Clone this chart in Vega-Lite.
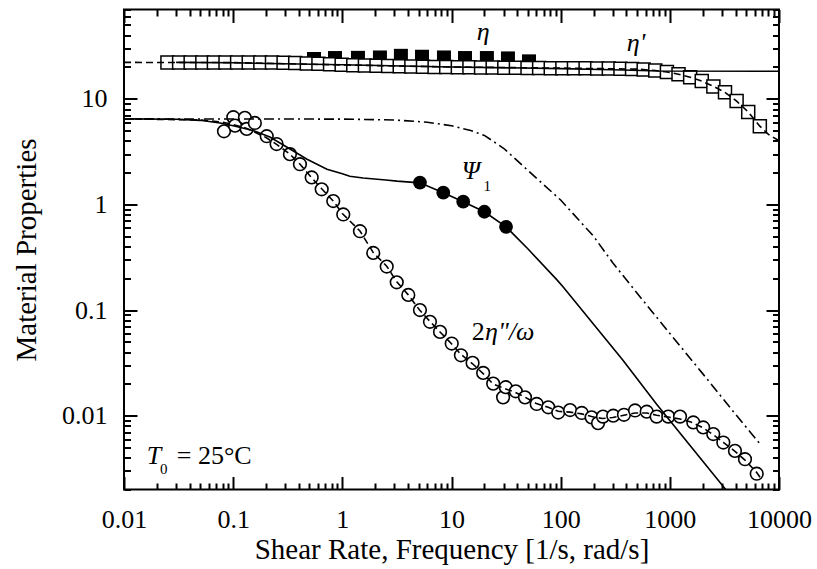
{
  "$schema": "https://vega.github.io/schema/vega-lite/v6.json",
  "width": 655,
  "height": 480,
  "autosize": {"type": "none"},
  "padding": {"left": 124, "top": 9.5, "right": 38, "bottom": 79.5},
  "background": "white",
  "config": {
    "view": {"stroke": "black", "strokeWidth": 2},
    "font": "Liberation Serif",
    "axis": {"domain": false, "grid": false, "tickColor": "black", "tickWidth": 2, "tickOpacity": 1, "zindex": 1, "labelFlush": false, "labelOverlap": false, "labelBound": false}
  },
  "datasets": {
    "etaF": [
      {"x": 0.55, "y": 23.8}, {"x": 0.857, "y": 24.3}, {"x": 1.39, "y": 24.4}, {"x": 2.21, "y": 24.6},
      {"x": 3.44, "y": 25.5}, {"x": 5.37, "y": 25.0}, {"x": 8.53, "y": 24.6}, {"x": 13.3, "y": 24.3},
      {"x": 21.1, "y": 24.3}, {"x": 32.9, "y": 24.1}, {"x": 51.3, "y": 22.6}
    ],
    "etaP": [
      {"x": 0.0250, "y": 22.1}, {"x": 0.0320, "y": 22.1}, {"x": 0.0408, "y": 22.1}, {"x": 0.0522, "y": 22.1},
      {"x": 0.0666, "y": 22.1}, {"x": 0.0851, "y": 22.1}, {"x": 0.1087, "y": 22.1}, {"x": 0.1389, "y": 22.1},
      {"x": 0.1775, "y": 22.1}, {"x": 0.2268, "y": 22.0}, {"x": 0.2897, "y": 21.9}, {"x": 0.3702, "y": 21.8},
      {"x": 0.4729, "y": 21.6}, {"x": 0.6042, "y": 21.4}, {"x": 0.7720, "y": 21.2}, {"x": 0.9863, "y": 21.0},
      {"x": 1.260, "y": 20.8}, {"x": 1.610, "y": 20.6}, {"x": 2.057, "y": 20.5}, {"x": 2.628, "y": 20.4},
      {"x": 3.357, "y": 20.3}, {"x": 4.290, "y": 20.2}, {"x": 5.481, "y": 20.1}, {"x": 7.003, "y": 20.0},
      {"x": 8.947, "y": 20.0}, {"x": 11.43, "y": 19.9}, {"x": 14.60, "y": 19.9}, {"x": 18.66, "y": 19.8},
      {"x": 23.84, "y": 19.8}, {"x": 30.46, "y": 19.7}, {"x": 38.90, "y": 19.7}, {"x": 49.71, "y": 19.6},
      {"x": 63.51, "y": 19.6}, {"x": 81.14, "y": 19.5}, {"x": 103.7, "y": 19.5}, {"x": 132.4, "y": 19.4},
      {"x": 169.2, "y": 19.4}, {"x": 216.2, "y": 19.3}, {"x": 276.2, "y": 19.3}, {"x": 352.9, "y": 19.2},
      {"x": 450.8, "y": 19.1}, {"x": 576.0, "y": 18.9}, {"x": 735.9, "y": 18.5}, {"x": 940.2, "y": 17.9},
      {"x": 1201, "y": 17.1}, {"x": 1535, "y": 16.0}, {"x": 1961, "y": 14.7}, {"x": 2505, "y": 13.1},
      {"x": 3201, "y": 11.5}, {"x": 4089, "y": 9.5}, {"x": 5224, "y": 7.5}, {"x": 6674, "y": 5.5}
    ],
    "psi1": [
      {"x": 5.14, "y": 1.61}, {"x": 8.41, "y": 1.29}, {"x": 12.8, "y": 1.06}, {"x": 20.0, "y": 0.852}, {"x": 31.6, "y": 0.614}
    ],
    "twoEta": [
      {"x": 0.0824, "y": 4.92}, {"x": 0.1003, "y": 6.69}, {"x": 0.104, "y": 5.57}, {"x": 0.128, "y": 6.59},
      {"x": 0.133, "y": 5.18}, {"x": 0.158, "y": 5.9}, {"x": 0.203, "y": 4.42}, {"x": 0.25, "y": 3.73},
      {"x": 0.331, "y": 2.99}, {"x": 0.409, "y": 2.4}, {"x": 0.524, "y": 1.8}, {"x": 0.647, "y": 1.39},
      {"x": 0.826, "y": 1.075}, {"x": 1.02, "y": 0.803}, {"x": 1.45, "y": 0.557}, {"x": 1.92, "y": 0.347},
      {"x": 2.55, "y": 0.258}, {"x": 3.15, "y": 0.183}, {"x": 4.02, "y": 0.139}, {"x": 5.14, "y": 0.1},
      {"x": 6.35, "y": 0.0774}, {"x": 7.85, "y": 0.0621}, {"x": 10.05, "y": 0.0482}, {"x": 12.2, "y": 0.0373},
      {"x": 15.6, "y": 0.0316}, {"x": 19.5, "y": 0.0254}, {"x": 24.1, "y": 0.0201}, {"x": 29.7, "y": 0.0149},
      {"x": 31.4, "y": 0.0186}, {"x": 38.8, "y": 0.017}, {"x": 47.1, "y": 0.0149}, {"x": 60.3, "y": 0.0129},
      {"x": 77, "y": 0.012}, {"x": 95, "y": 0.0107}, {"x": 122, "y": 0.0113}, {"x": 156, "y": 0.0106},
      {"x": 192, "y": 0.00964}, {"x": 220, "y": 0.0085}, {"x": 244, "y": 0.0098}, {"x": 303, "y": 0.01},
      {"x": 380, "y": 0.0102}, {"x": 480, "y": 0.0112}, {"x": 614, "y": 0.0109}, {"x": 757, "y": 0.0098},
      {"x": 968, "y": 0.0098}, {"x": 1240, "y": 0.0098}, {"x": 1640, "y": 0.00863}, {"x": 2020, "y": 0.00774},
      {"x": 2500, "y": 0.0067}, {"x": 3090, "y": 0.00557}, {"x": 3950, "y": 0.00464}, {"x": 4880, "y": 0.00387},
      {"x": 6250, "y": 0.00282}
    ],
    "mEta": [
      {"x": 0.03, "y": 22.1}, {"x": 0.1, "y": 21.9}, {"x": 1, "y": 21.0}, {"x": 10, "y": 20.0},
      {"x": 100, "y": 19.3}, {"x": 300, "y": 18.8}, {"x": 800, "y": 18.3}, {"x": 10000, "y": 18.2}
    ],
    "mEtaP": [
      {"x": 0.01, "y": 22.1}, {"x": 0.1, "y": 22.0}, {"x": 1, "y": 20.9}, {"x": 10, "y": 20.0},
      {"x": 100, "y": 19.5}, {"x": 500, "y": 19.1}, {"x": 736, "y": 18.5}, {"x": 940, "y": 17.9},
      {"x": 1201, "y": 17.1}, {"x": 1535, "y": 16.0}, {"x": 1961, "y": 14.7}, {"x": 2505, "y": 13.1},
      {"x": 3201, "y": 11.5}, {"x": 4089, "y": 9.5}, {"x": 5224, "y": 7.5}, {"x": 6674, "y": 5.5},
      {"x": 8000, "y": 4.6}, {"x": 10000, "y": 4.0}
    ],
    "mPsi": [
      {"x": 0.01, "y": 6.45}, {"x": 0.03, "y": 6.4}, {"x": 0.05, "y": 6.25}, {"x": 0.0757, "y": 5.9},
      {"x": 0.1, "y": 5.55}, {"x": 0.152, "y": 5.0}, {"x": 0.217, "y": 4.35}, {"x": 0.353, "y": 3.22},
      {"x": 0.475, "y": 2.68}, {"x": 0.723, "y": 2.15}, {"x": 1.0, "y": 1.95}, {"x": 1.17, "y": 1.85},
      {"x": 1.55, "y": 1.78}, {"x": 2.5, "y": 1.7}, {"x": 3.17, "y": 1.66}, {"x": 5.14, "y": 1.6},
      {"x": 8.41, "y": 1.29}, {"x": 12.8, "y": 1.06}, {"x": 20, "y": 0.852}, {"x": 31.6, "y": 0.614},
      {"x": 50, "y": 0.38}, {"x": 92.5, "y": 0.193}, {"x": 105, "y": 0.166}, {"x": 372, "y": 0.0334},
      {"x": 757, "y": 0.0128}, {"x": 3250, "y": 0.002}
    ],
    "mDashDot": [
      {"x": 0.01, "y": 6.45}, {"x": 1, "y": 6.42}, {"x": 3, "y": 6.3}, {"x": 6, "y": 6.0},
      {"x": 10, "y": 5.55}, {"x": 15, "y": 5.0}, {"x": 20, "y": 4.5}, {"x": 30, "y": 3.4},
      {"x": 50, "y": 2.1}, {"x": 100, "y": 1.1}, {"x": 200, "y": 0.5}, {"x": 300, "y": 0.28},
      {"x": 500, "y": 0.145}, {"x": 1000, "y": 0.06}, {"x": 2000, "y": 0.025}, {"x": 4000, "y": 0.0103},
      {"x": 6700, "y": 0.0054}
    ],
    "mTwoEta": [
      {"x": 0.01, "y": 6.45}, {"x": 0.05, "y": 6.3}, {"x": 0.08, "y": 6.0}, {"x": 0.1, "y": 5.7},
      {"x": 0.13, "y": 5.3}, {"x": 0.16, "y": 4.8}, {"x": 0.2, "y": 4.3}, {"x": 0.25, "y": 3.7},
      {"x": 0.33, "y": 3.0}, {"x": 0.41, "y": 2.4}, {"x": 0.52, "y": 1.8}, {"x": 0.65, "y": 1.4},
      {"x": 0.83, "y": 1.07}, {"x": 1.0, "y": 0.82}, {"x": 1.45, "y": 0.56}, {"x": 1.92, "y": 0.35},
      {"x": 2.55, "y": 0.26}, {"x": 3.15, "y": 0.185}, {"x": 4.0, "y": 0.14}, {"x": 5.1, "y": 0.1},
      {"x": 6.35, "y": 0.078}, {"x": 7.85, "y": 0.062}, {"x": 10, "y": 0.048}, {"x": 12.2, "y": 0.038},
      {"x": 15.6, "y": 0.031}, {"x": 19.5, "y": 0.025}, {"x": 24, "y": 0.02}, {"x": 31, "y": 0.018},
      {"x": 39, "y": 0.0165}, {"x": 47, "y": 0.015}, {"x": 60, "y": 0.013}, {"x": 77, "y": 0.012},
      {"x": 95, "y": 0.011}, {"x": 122, "y": 0.0108}, {"x": 156, "y": 0.0104}, {"x": 192, "y": 0.0098},
      {"x": 240, "y": 0.0094}, {"x": 300, "y": 0.0096}, {"x": 380, "y": 0.0101}, {"x": 480, "y": 0.0106},
      {"x": 614, "y": 0.0106}, {"x": 757, "y": 0.0101}, {"x": 968, "y": 0.0097}, {"x": 1240, "y": 0.0093},
      {"x": 1560, "y": 0.0087}, {"x": 2000, "y": 0.0077}, {"x": 2500, "y": 0.0066}, {"x": 3090, "y": 0.0056},
      {"x": 3950, "y": 0.0046}, {"x": 4880, "y": 0.0038}, {"x": 6250, "y": 0.0029}, {"x": 6900, "y": 0.0025}
    ],
    "labels": [
      {"t": "η", "x": 17.0, "y": 35.9, "it": true, "sz": 26},
      {"t": "η'", "x": 403, "y": 28.6, "it": true, "sz": 26},
      {"t": "Ψ", "x": 12.4, "y": 1.73, "it": true, "sz": 26},
      {"t": "1", "x": 19.6, "y": 1.34, "it": false, "sz": 15},
      {"t": "2", "x": 15.3, "y": 0.0518, "it": false, "sz": 26},
      {"t": "η\"/ω", "x": 20.3, "y": 0.0518, "it": true, "sz": 26},
      {"t": "T", "x": 0.01614, "y": 0.00347, "it": true, "sz": 26},
      {"t": "0", "x": 0.0214, "y": 0.00279, "it": false, "sz": 15},
      {"t": "= 25°C", "x": 0.0304, "y": 0.00347, "it": false, "sz": 26}
    ]
  },
  "encoding": {
    "x": {"field": "x", "type": "quantitative", "scale": {"type": "log", "domain": [0.01, 10000], "nice": false}, "axis": null},
    "y": {"field": "y", "type": "quantitative", "scale": {"type": "log", "domain": [0.002, 70], "nice": false}, "axis": null}
  },
  "layer": [
    {
      "data": {"name": "etaF"},
      "mark": {"type": "point", "shape": "square", "filled": true, "fill": "black", "strokeWidth": 0, "size": 196, "opacity": 1},
      "encoding": {
        "x": {"field": "x", "type": "quantitative", "scale": {"type": "log", "domain": [0.01, 10000], "nice": false},
          "axis": {"orient": "bottom", "values": [0.01, 0.1, 1, 10, 100, 1000, 10000],
            "format": "~g", "offset": -13, "tickSize": 13,
            "labelFont": "Liberation Serif", "labelFontSize": 26, "labelColor": "black", "labelPadding": 17,
            "title": "Shear Rate, Frequency [1/s, rad/s]", "titleFont": "Liberation Serif", "titleFontSize": 29,
            "titleFontWeight": "normal", "titleColor": "black", "titlePadding": 3}},
        "y": {"field": "y", "type": "quantitative", "scale": {"type": "log", "domain": [0.002, 70], "nice": false},
          "axis": {"orient": "left", "values": [0.01, 0.1, 1, 10],
            "format": "~g", "offset": -13, "tickSize": 13,
            "labelFont": "Liberation Serif", "labelFontSize": 26, "labelColor": "black", "labelPadding": 17,
            "title": "Material Properties", "titleFont": "Liberation Serif", "titleFontSize": 29,
            "titleFontWeight": "normal", "titleColor": "black", "titlePadding": 20}}
      }
    },
    {
      "data": {"name": "etaP"},
      "mark": {"type": "point", "shape": "square", "filled": true, "fill": "white", "stroke": "black", "strokeWidth": 1.5, "size": 169, "opacity": 1},
      "encoding": {
        "x": {"field": "x", "type": "quantitative", "scale": {"type": "log", "domain": [0.01, 10000], "nice": false},
          "axis": {"orient": "top", "values": [0.01, 0.1, 1, 10, 100, 1000, 10000], "labels": false, "offset": -13, "tickSize": 13, "title": null}},
        "y": {"field": "y", "type": "quantitative", "scale": {"type": "log", "domain": [0.002, 70], "nice": false},
          "axis": {"orient": "right", "values": [0.01, 0.1, 1, 10], "labels": false, "offset": -13, "tickSize": 13, "title": null}}
      }
    },
    {
      "data": {"name": "twoEta"},
      "mark": {"type": "point", "shape": "circle", "filled": true, "fill": "white", "stroke": "black", "strokeWidth": 1.6, "size": 160, "opacity": 1},
      "encoding": {
        "x": {"field": "x", "type": "quantitative", "scale": {"type": "log", "domain": [0.01, 10000], "nice": false},
          "axis": {"orient": "bottom", "values": [0.02, 0.03, 0.04, 0.05, 0.06, 0.07, 0.08, 0.09, 0.2, 0.3, 0.4, 0.5, 0.6, 0.7, 0.8, 0.9, 2, 3, 4, 5, 6, 7, 8, 9, 20, 30, 40, 50, 60, 70, 80, 90, 200, 300, 400, 500, 600, 700, 800, 900, 2000, 3000, 4000, 5000, 6000, 7000, 8000, 9000],
            "labels": false, "offset": -6.5, "tickSize": 6.5, "title": null}},
        "y": {"field": "y", "type": "quantitative", "scale": {"type": "log", "domain": [0.002, 70], "nice": false},
          "axis": {"orient": "left", "values": [0.002, 0.003, 0.004, 0.005, 0.006, 0.007, 0.008, 0.009, 0.02, 0.03, 0.04, 0.05, 0.06, 0.07, 0.08, 0.09, 0.2, 0.3, 0.4, 0.5, 0.6, 0.7, 0.8, 0.9, 2, 3, 4, 5, 6, 7, 8, 9, 20, 30, 40, 50, 60, 70],
            "labels": false, "offset": -6.5, "tickSize": 6.5, "title": null}}
      }
    },
    {
      "data": {"name": "psi1"},
      "mark": {"type": "point", "shape": "circle", "filled": true, "fill": "black", "strokeWidth": 0, "size": 190, "opacity": 1},
      "encoding": {
        "x": {"field": "x", "type": "quantitative", "scale": {"type": "log", "domain": [0.01, 10000], "nice": false},
          "axis": {"orient": "top", "values": [0.02, 0.03, 0.04, 0.05, 0.06, 0.07, 0.08, 0.09, 0.2, 0.3, 0.4, 0.5, 0.6, 0.7, 0.8, 0.9, 2, 3, 4, 5, 6, 7, 8, 9, 20, 30, 40, 50, 60, 70, 80, 90, 200, 300, 400, 500, 600, 700, 800, 900, 2000, 3000, 4000, 5000, 6000, 7000, 8000, 9000],
            "labels": false, "offset": -6.5, "tickSize": 6.5, "title": null}},
        "y": {"field": "y", "type": "quantitative", "scale": {"type": "log", "domain": [0.002, 70], "nice": false},
          "axis": {"orient": "right", "values": [0.002, 0.003, 0.004, 0.005, 0.006, 0.007, 0.008, 0.009, 0.02, 0.03, 0.04, 0.05, 0.06, 0.07, 0.08, 0.09, 0.2, 0.3, 0.4, 0.5, 0.6, 0.7, 0.8, 0.9, 2, 3, 4, 5, 6, 7, 8, 9, 20, 30, 40, 50, 60, 70],
            "labels": false, "offset": -6.5, "tickSize": 6.5, "title": null}}
      }
    },
    {
      "data": {"name": "mEta"},
      "mark": {"type": "line", "color": "black", "strokeWidth": 1.6, "clip": true}
    },
    {
      "data": {"name": "mEtaP"},
      "mark": {"type": "line", "color": "black", "strokeWidth": 1.6, "strokeDash": [7, 4], "clip": true}
    },
    {
      "data": {"name": "mPsi"},
      "mark": {"type": "line", "color": "black", "strokeWidth": 1.6, "clip": true}
    },
    {
      "data": {"name": "mDashDot"},
      "mark": {"type": "line", "color": "black", "strokeWidth": 1.6, "strokeDash": [10, 4, 2, 4], "clip": true}
    },
    {
      "data": {"name": "mTwoEta"},
      "mark": {"type": "line", "color": "black", "strokeWidth": 1.6, "strokeDash": [7, 4], "clip": true}
    },
    {
      "data": {"name": "labels"},
      "transform": [{"filter": "datum.it"}],
      "mark": {"type": "text", "align": "left", "baseline": "alphabetic", "font": "Liberation Serif", "fontStyle": "italic", "color": "black"},
      "encoding": {"text": {"field": "t"}, "size": {"field": "sz", "type": "quantitative", "scale": null}}
    },
    {
      "data": {"name": "labels"},
      "transform": [{"filter": "!datum.it"}],
      "mark": {"type": "text", "align": "left", "baseline": "alphabetic", "font": "Liberation Serif", "color": "black"},
      "encoding": {"text": {"field": "t"}, "size": {"field": "sz", "type": "quantitative", "scale": null}}
    }
  ],
  "resolve": {"axis": {"x": "independent", "y": "independent"}}
}
